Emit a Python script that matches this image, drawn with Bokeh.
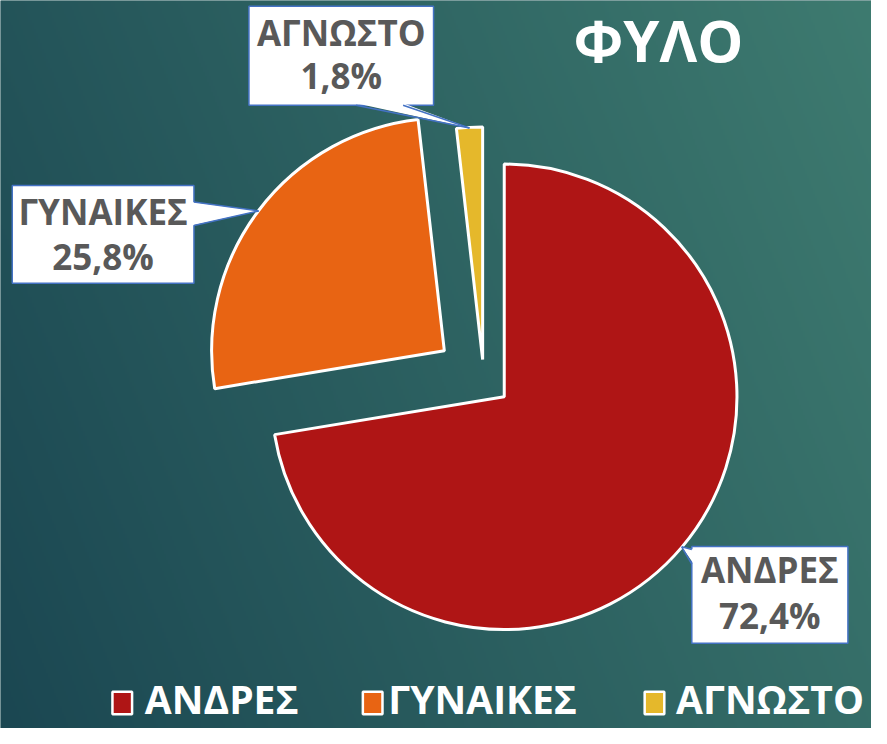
import numpy as np
from bokeh.plotting import figure
from bokeh.models import Range1d, ColumnDataSource
from bokeh.core.properties import value
from bokeh.embed import file_html
from bokeh.resources import INLINE

# ---------------- data ----------------
categories = ["ΑΝΔΡΕΣ", "ΓΥΝΑΙΚΕΣ", "ΑΓΝΩΣΤΟ"]
percent = [72.4, 25.8, 1.8]
colors = ["#AF1515", "#E86413", "#E5B82B"]
title_text = "ΦΥΛΟ"

# ---------------- layout / style ----------------
W, H, M = 887, 744, 8
FONT = "Open Sans"
TXT = "#595959"
BLUE = "#4472C4"
BASE_FIX = 0.44   # baseline correction (fraction of font size)

def Y(py):  # reference pixel row -> data y (y upwards)
    return H - py

def TY(py, fs):  # text baseline target -> data y
    return Y(py) + BASE_FIX * fs

p = figure(width=W - 2 * M, height=H - 2 * M,
           x_range=Range1d(0, W), y_range=Range1d(0, H),
           output_backend="svg", toolbar_location=None,
           x_axis_location=None, y_axis_location=None, min_border=0)
p.outline_line_color = None
p.xgrid.visible = False
p.ygrid.visible = False
p.background_fill_color = "#2B5F60"
p.border_fill_color = "#2B5F60"

# background gradient
ny, nx = 372, 444
gx = np.linspace(0, 1, nx)
gy = np.linspace(0, 1, ny)
GX, GY = np.meshgrid(gx, gy)
t = np.clip(0.75 * GX + 0.25 * GY, 0, 1)
c0 = np.array([0x1B, 0x47, 0x52], dtype=float)
c1 = np.array([0x3E, 0x7B, 0x70], dtype=float)
rgb = c0 + (c1 - c0) * t[..., None]
img = np.empty((ny, nx), dtype=np.uint32)
view = img.view(dtype=np.uint8).reshape((ny, nx, 4))
view[..., 0] = rgb[..., 0].astype(np.uint8)
view[..., 1] = rgb[..., 1].astype(np.uint8)
view[..., 2] = rgb[..., 2].astype(np.uint8)
view[..., 3] = 255
p.image_rgba(image=[img], x=0, y=0, dw=W, dh=H)

# ---------------- pie ----------------
vals = np.array(percent, dtype=float)
frac = vals / vals.sum()
ends = np.cumsum(frac) * 2 * np.pi          # clockwise from 12 o'clock
starts = ends - frac * 2 * np.pi
mids = (starts + ends) / 2

CX, CY, R = 513, Y(405), 237
explode = [(0, 0), (-61, 47), (-22, 38)]    # per-slice offset (x, y up)
vx = np.array([CX + e[0] for e in explode], dtype=float)
vy = np.array([CY + e[1] for e in explode], dtype=float)

src = ColumnDataSource(dict(
    x=vx, y=vy,
    sa=np.pi / 2 - starts, ea=np.pi / 2 - ends,
    color=colors,
))
p.wedge(x="x", y="y", radius=R, start_angle="sa", end_angle="ea",
        direction="clock", fill_color="color", line_color="white",
        line_width=3, source=src)

# ---------------- callouts ----------------
boxes = [(704, 863, 558, 657), (12, 197, 189, 289), (253, 441, 6, 107)]
bases = [[(704, 561), (704, 576)], [(197, 206), (197, 230)], [(362, 107), (410, 107)]]
inward = [(1, 0), (-1, 0), (0, 1)]   # in data coords (y up)
line1_base = [597, 231, 48]
line2_base = [644, 277, 92]
FS_LAB = 35

tips_x = vx + R * np.sin(mids)
tips_y = vy + R * np.cos(mids)

for i in range(len(categories)):
    l, r, tp, bt = boxes[i]
    p.quad(left=l, right=r, top=Y(tp), bottom=Y(bt), fill_color="white",
           line_color=BLUE, line_width=1.5)
    (b1x, b1y), (b2x, b2y) = bases[i]
    ix, iy = inward[i]
    tx, ty = tips_x[i], tips_y[i]
    p.patch(x=[b1x + 2 * ix, tx, b2x + 2 * ix], y=[Y(b1y) + 2 * iy, ty, Y(b2y) + 2 * iy],
            fill_color="white", line_color=None)
    p.multi_line(xs=[[b1x, tx], [tx, b2x]], ys=[[Y(b1y), ty], [ty, Y(b2y)]],
                 line_color=BLUE, line_width=1.5)
    cx = (l + r) / 2
    pct = f"{percent[i]:.1f}".replace(".", ",") + "%"
    p.text(x=[cx, cx], y=[TY(line1_base[i], FS_LAB), TY(line2_base[i], FS_LAB)],
           text=[categories[i], pct], text_align="center",
           text_baseline="alphabetic", text_font=value(FONT),
           text_font_style="bold", text_font_size=f"{FS_LAB}px", text_color=TXT)

# ---------------- title ----------------
FS_T = 58
p.text(x=[670], y=[TY(65, FS_T)], text=[title_text], text_align="center",
       text_baseline="alphabetic", text_font=value(FONT),
       text_font_style="bold", text_font_size=f"{FS_T}px", text_color="white")

# ---------------- legend ----------------
FS_L = 39
leg_sq_x = [124, 379, 666]
leg_tx_x = [147, 395, 688]
p.rect(x=leg_sq_x, y=[Y(718)] * 3, width=20, height=23, fill_color=colors,
       line_color="white", line_width=2.5)
p.text(x=leg_tx_x, y=[TY(731, FS_L)] * 3, text=categories, text_align="left",
       text_baseline="alphabetic", text_font=value(FONT), text_font_style="bold",
       text_font_size=f"{FS_L}px", text_color="white")

open("out.html", "w").write(file_html(p, INLINE))
